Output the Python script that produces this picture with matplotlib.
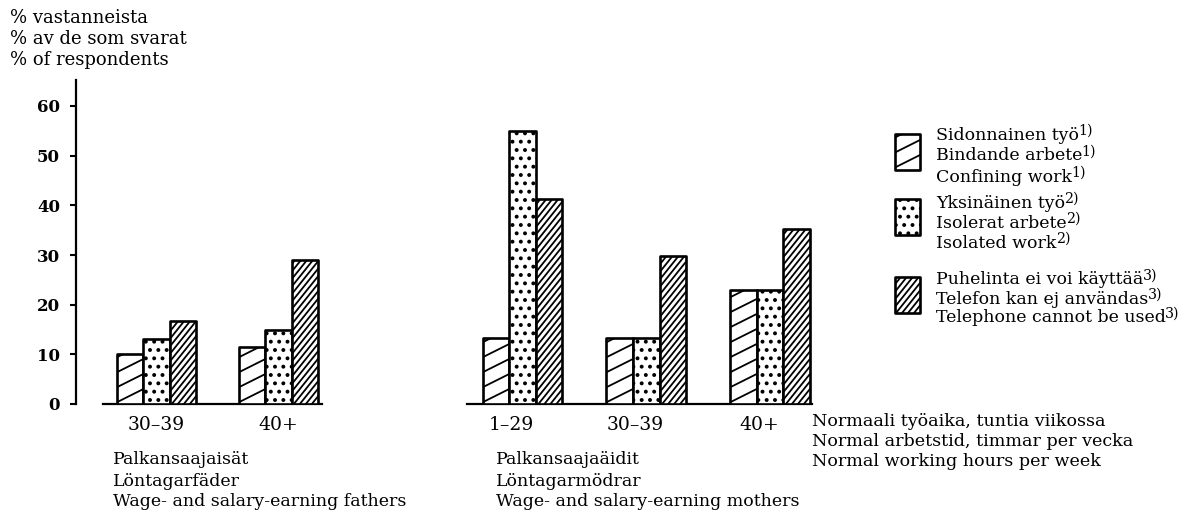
import matplotlib
matplotlib.use("Agg")
import numpy as np
from matplotlib import pyplot as plt
from matplotlib.patches import Rectangle
from matplotlib.collections import LineCollection
from matplotlib.transforms import IdentityTransform

plt.rcParams["font.family"] = ["DejaVu Serif"]
plt.rcParams["hatch.linewidth"] = 1.6
plt.rcParams["hatch.color"] = "black"

# ---- data ------------------------------------------------------------------
hours_fathers = ["30\u201339", "40+"]
confining_fathers = [10.1, 11.5]
isolated_fathers = [13.1, 14.9]
phone_fathers = [16.7, 29.0]

hours_mothers = ["1\u201329", "30\u201339", "40+"]
confining_mothers = [13.2, 13.2, 23.0]
isolated_mothers = [55.0, 13.2, 23.0]
phone_mothers = [41.2, 29.8, 35.2]

legend_labels = [
    [("Sidonnainen ty\u00f6", "1)"), ("Bindande arbete", "1)"), ("Confining work", "1)")],
    [("Yksin\u00e4inen ty\u00f6", "2)"), ("Isolerat arbete", "2)"), ("Isolated work", "2)")],
    [("Puhelinta ei voi k\u00e4ytt\u00e4\u00e4", "3)"), ("Telefon kan ej anv\u00e4ndas", "3)"),
     ("Telephone cannot be used", "3)")],
]

W, H = 1198, 512
fig = plt.figure(figsize=(W / 100, H / 100), dpi=100)
fig.patch.set_facecolor("white")

Y_TOP = 60 * (404 - 80) / (404 - 106)
BW = 0.215


def axes_px(x0, x1, y0=80, y1=404):
    return fig.add_axes([x0 / W, (H - y1) / H, (x1 - x0) / W, (y1 - y0) / H])


def line_hatch(ax, patch, slope, gap, lw=1.3):
    """diagonal hatching drawn in pixel space, clipped to the patch"""
    bb = patch.get_window_extent()
    span = bb.x1 - bb.x0
    segs = []
    for c in np.arange(bb.y0 - slope * span - gap, bb.y1 + gap, gap):
        segs.append([(bb.x0 - 2, c - 2 * slope), (bb.x1 + 2, c + slope * (span + 2))])
    lc = LineCollection(segs, colors="black", linewidths=lw,
                        transform=IdentityTransform(), zorder=patch.get_zorder() + 0.5)
    ax.add_collection(lc, autolim=False)
    lc.set_clip_path(patch)


def draw_group(ax, conf, iso, phone):
    x = np.arange(len(conf))
    kw = dict(width=BW, facecolor="white", edgecolor="black", linewidth=1.9,
              joinstyle="round", zorder=3)
    b1 = ax.bar(x - BW, conf, **kw)
    b2 = ax.bar(x, iso, hatch="..", **kw)
    b3 = ax.bar(x + BW, phone, **kw)
    return x, b1, b2, b3


# ---- fathers ---------------------------------------------------------------
ax1 = axes_px(76, 322)
x1, f1, f2, f3 = draw_group(ax1, confining_fathers, isolated_fathers, phone_fathers)
ax1.set_xlim(-(156.5 - 76) / 122, 1 + (322 - 278.5) / 122)
ax1.set_ylim(0, Y_TOP)
ax1.set_yticks(range(0, 61, 10))
ax1.tick_params(axis="y", length=4.5, width=1.5, pad=7, labelsize=12)
for lab in ax1.get_yticklabels():
    lab.set_fontweight("bold")
ax1.set_xticks(x1, hours_fathers)
ax1.spines["bottom"].set_bounds(-(156.5 - 103) / 122, 1 + (322 - 278.5) / 122)

# ---- mothers ---------------------------------------------------------------
ax2 = axes_px(467, 812)
x2, m1, m2, m3 = draw_group(ax2, confining_mothers, isolated_mothers, phone_mothers)
ax2.set_xlim(-(522.5 - 467) / 123.75, 2 + (812 - 770) / 123.75)
ax2.set_ylim(0, Y_TOP)
ax2.set_yticks([])
ax2.spines["left"].set_visible(False)
ax2.set_xticks(x2 - 0.09, hours_mothers)

for ax in (ax1, ax2):
    ax.patch.set_alpha(0)
    ax.spines["top"].set_visible(False)
    ax.spines["right"].set_visible(False)
    for s in ("left", "bottom"):
        ax.spines[s].set_linewidth(1.6)
    ax.tick_params(axis="x", length=0, pad=9, labelsize=13.5)

for ax, b1, b3 in ((ax1, f1, f3), (ax2, m1, m3)):
    for p in b1:
        line_hatch(ax, p, 0.5, 15)
    for p in b3:
        line_hatch(ax, p, 1.25, 7.5)

# ---- overlay in pixel coordinates: texts and legend --------------------------
ov = fig.add_axes([0, 0, 1, 1])
ov.set_xlim(0, W)
ov.set_ylim(H, 0)
ov.axis("off")


def txt(x, y, s, size=12, sup=None):
    t = ov.text(x, y, s, fontsize=size, ha="left", va="center")
    if sup:
        ov.annotate(sup, xy=(1, 1), xycoords=t, xytext=(-0.5, 2),
                    textcoords="offset points", ha="left", va="top",
                    fontsize=size * 0.82)
    return t


for i, s in enumerate(["% vastanneista", "% av de som svarat", "% of respondents"]):
    txt(10, 18 + i * 21, s, 13)

for i, s in enumerate(["Palkansaajais\u00e4t", "L\u00f6ntagarf\u00e4der",
                       "Wage- and salary-earning fathers"]):
    txt(113, 460 + i * 21, s, 12.5)
for i, s in enumerate(["Palkansaaja\u00e4idit", "L\u00f6ntagarm\u00f6drar",
                       "Wage- and salary-earning mothers"]):
    txt(496, 460 + i * 21, s, 12.5)
for i, s in enumerate(["Normaali ty\u00f6aika, tuntia viikossa",
                       "Normal arbetstid, timmar per vecka",
                       "Normal working hours per week"]):
    txt(812, 422 + i * 20, s, 12.6)

# legend
box_tops = [134, 199, 277]
text_rows = [[135, 156, 177], [203, 223, 243], [280, 299, 318]]
for k, (top, rows, labels) in enumerate(zip(box_tops, text_rows, legend_labels)):
    r = Rectangle((895, top), 25, 36, facecolor="white", edgecolor="black",
                  linewidth=1.9, joinstyle="round", zorder=3,
                  hatch=".." if k == 1 else None)
    ov.add_patch(r)
    if k == 0:
        line_hatch(ov, r, 0.5, 15)
    elif k == 2:
        line_hatch(ov, r, 1.25, 7.5)
    for y, (s, sup) in zip(rows, labels):
        txt(936, y, s, 12.5, sup)

fig.savefig("out.png", dpi=100, facecolor="white")
